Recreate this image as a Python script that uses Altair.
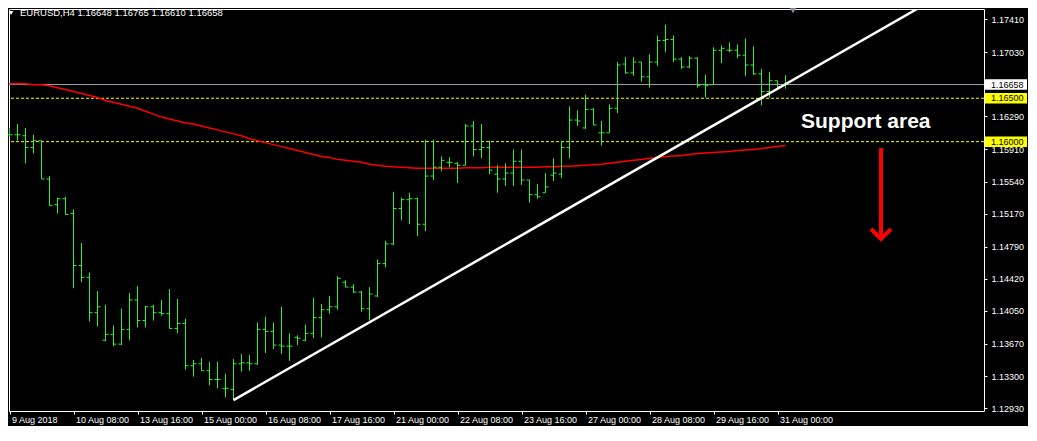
import json
import altair as alt
import pandas as pd

# ---------------- data ----------------
symbol = "EURUSD"
timeframe = "H4"

bar_open = [
    1.16079, 1.16079, 1.16068, 1.15932, 1.16011, 1.15570, 1.15275, 1.15343, 1.15174, 1.14574,
    1.14438, 1.14030, 1.13713, 1.13781, 1.13668, 1.13838, 1.14177, 1.13940, 1.14098, 1.14030,
    1.14019, 1.13849, 1.13906, 1.13419, 1.13442, 1.13362, 1.13261, 1.13159, 1.13147, 1.13442,
    1.13453, 1.13442, 1.13838, 1.13815, 1.13657, 1.13645, 1.13747, 1.13713, 1.13793, 1.13974,
    1.14064, 1.14098, 1.14381, 1.14325, 1.14268, 1.14076, 1.14223, 1.14596, 1.14823, 1.15230,
    1.15332, 1.15343, 1.15049, 1.15604, 1.15706, 1.15762, 1.15751, 1.15728, 1.16181, 1.15909,
    1.15932, 1.15626, 1.15570, 1.15638, 1.15774, 1.15558, 1.15389, 1.15411, 1.15615, 1.15626,
    1.15932, 1.16249, 1.16158, 1.16373, 1.16102, 1.16102, 1.16385, 1.16894, 1.16792, 1.16917,
    1.16747, 1.16917, 1.17166, 1.17177, 1.16951, 1.16860, 1.16962, 1.16656, 1.16656, 1.17053,
    1.17053, 1.17053, 1.16996, 1.16883, 1.16781, 1.16577, 1.16702, 1.16648,
]
bar_high = [
    1.16158, 1.16204, 1.16158, 1.16079, 1.16011, 1.15604, 1.15355, 1.15366, 1.15219, 1.14834,
    1.14494, 1.14279, 1.14121, 1.13883, 1.14076, 1.14257, 1.14336, 1.14110, 1.14121, 1.14177,
    1.14302, 1.14189, 1.13962, 1.13487, 1.13510, 1.13464, 1.13464, 1.13328, 1.13498, 1.13555,
    1.13544, 1.13917, 1.13985, 1.13917, 1.14098, 1.13793, 1.13770, 1.13894, 1.14200, 1.14132,
    1.14223, 1.14449, 1.14404, 1.14359, 1.14279, 1.14325, 1.14642, 1.14857, 1.15423, 1.15355,
    1.15411, 1.15355, 1.16023, 1.16023, 1.15830, 1.15819, 1.15762, 1.16204, 1.16238, 1.16204,
    1.16011, 1.15728, 1.15751, 1.15909, 1.15909, 1.15558, 1.15513, 1.15638, 1.15808, 1.16011,
    1.16407, 1.16362, 1.16543, 1.16385, 1.16238, 1.16430, 1.16917, 1.16973, 1.16973, 1.16917,
    1.17007, 1.17223, 1.17347, 1.17223, 1.16973, 1.16985, 1.16973, 1.16770, 1.17087, 1.17109,
    1.17143, 1.17121, 1.17189, 1.17098, 1.16838, 1.16804, 1.16702, 1.16765,
]
bar_low = [
    1.16057, 1.16011, 1.15751, 1.15864, 1.15570, 1.15264, 1.15174, 1.15162, 1.14313, 1.14381,
    1.13928, 1.13872, 1.13702, 1.13645, 1.13657, 1.13713, 1.13860, 1.13860, 1.13940, 1.13996,
    1.13849, 1.13793, 1.13374, 1.13294, 1.13362, 1.13193, 1.13159, 1.13057, 1.13023, 1.13351,
    1.13362, 1.13430, 1.13566, 1.13611, 1.13555, 1.13476, 1.13657, 1.13702, 1.13736, 1.13747,
    1.14019, 1.14064, 1.14325, 1.14257, 1.14042, 1.13940, 1.14211, 1.14551, 1.14811, 1.15094,
    1.15049, 1.14913, 1.14970, 1.15558, 1.15660, 1.15706, 1.15525, 1.15728, 1.15830, 1.15808,
    1.15626, 1.15411, 1.15491, 1.15491, 1.15502, 1.15298, 1.15343, 1.15411, 1.15547, 1.15581,
    1.15808, 1.16181, 1.16147, 1.16192, 1.15955, 1.16102, 1.16328, 1.16781, 1.16758, 1.16690,
    1.16622, 1.16872, 1.17030, 1.16917, 1.16838, 1.16849, 1.16622, 1.16509, 1.16656, 1.16906,
    1.17030, 1.16962, 1.16758, 1.16770, 1.16419, 1.16509, 1.16622, 1.16610,
]
bar_close = [
    1.16079, 1.16079, 1.15932, 1.16011, 1.15570, 1.15264, 1.15343, 1.15162, 1.14574, 1.14438,
    1.14030, 1.14098, 1.13781, 1.13668, 1.13838, 1.14177, 1.13940, 1.14098, 1.14030, 1.14019,
    1.13849, 1.13906, 1.13419, 1.13442, 1.13362, 1.13261, 1.13261, 1.13159, 1.13442, 1.13453,
    1.13442, 1.13838, 1.13815, 1.13657, 1.13645, 1.13645, 1.13736, 1.13793, 1.13974, 1.14064,
    1.14098, 1.14426, 1.14325, 1.14268, 1.14076, 1.14245, 1.14596, 1.14823, 1.15230, 1.15332,
    1.15343, 1.15049, 1.15604, 1.15706, 1.15785, 1.15762, 1.15728, 1.16181, 1.15909, 1.15932,
    1.15672, 1.15570, 1.15638, 1.15774, 1.15558, 1.15389, 1.15366, 1.15479, 1.15638, 1.15932,
    1.16249, 1.16238, 1.16373, 1.16192, 1.16102, 1.16385, 1.16883, 1.16792, 1.16917, 1.16747,
    1.16917, 1.17166, 1.17177, 1.16951, 1.16860, 1.16962, 1.16645, 1.16645, 1.17053, 1.17075,
    1.17053, 1.16996, 1.16883, 1.16781, 1.16577, 1.16702, 1.16634, 1.16658,
]
ma_values = [
    1.16668, 1.16668, 1.16668, 1.16656, 1.16656, 1.16645, 1.16622, 1.16600, 1.16577, 1.16555,
    1.16532, 1.16509, 1.16475, 1.16453, 1.16430, 1.16407, 1.16385, 1.16351, 1.16317, 1.16283,
    1.16260, 1.16238, 1.16215, 1.16204, 1.16181, 1.16158, 1.16136, 1.16113, 1.16090, 1.16068,
    1.16034, 1.16011, 1.15989, 1.15966, 1.15943, 1.15921, 1.15898, 1.15875, 1.15853, 1.15830,
    1.15819, 1.15796, 1.15785, 1.15774, 1.15762, 1.15740, 1.15728, 1.15717, 1.15711, 1.15706,
    1.15700, 1.15694, 1.15694, 1.15694, 1.15694, 1.15694, 1.15694, 1.15700, 1.15700, 1.15700,
    1.15706, 1.15706, 1.15706, 1.15706, 1.15706, 1.15706, 1.15706, 1.15711, 1.15711, 1.15717,
    1.15717, 1.15723, 1.15728, 1.15734, 1.15740, 1.15751, 1.15762, 1.15774, 1.15785, 1.15796,
    1.15808, 1.15819, 1.15830, 1.15836, 1.15841, 1.15853, 1.15864, 1.15870, 1.15875, 1.15881,
    1.15887, 1.15898, 1.15904, 1.15909, 1.15921, 1.15932, 1.15943, 1.15955,
]

time_labels = ["9 Aug 2018", "10 Aug 08:00", "13 Aug 16:00", "15 Aug 00:00", "16 Aug 08:00",
               "17 Aug 16:00", "21 Aug 00:00", "22 Aug 08:00", "23 Aug 16:00", "27 Aug 00:00",
               "28 Aug 08:00", "29 Aug 16:00", "31 Aug 00:00"]
label_bars = [0, 8, 16, 24, 32, 40, 48, 56, 64, 72, 80, 88, 96]
price_ticks = [1.17410, 1.17030, 1.16290, 1.15910, 1.15540, 1.15170, 1.14790,
               1.14420, 1.14050, 1.13670, 1.13300, 1.12930]

bid_price = 1.16658
support_levels = [1.16500, 1.16000]

trend_bars = [28, 130]
trend_prices = [1.13023, 1.18402]

annotation_text = "Support area"

# ---------------- styling ----------------
FONT = "Liberation Sans"
GREEN = "#2ef02e"
RED = "#ff0000"
YELLOW = "#ffff00"
WHITE = "#ffffff"
GREY = "#98a2ac"

n = len(bar_close)
df = pd.DataFrame({
    "bar": list(range(n)),
    "open": bar_open,
    "high": bar_high,
    "low": bar_low,
    "close": bar_close,
    "ma": ma_values,
})

PLOT_W, PLOT_H = 975, 402
xscale = alt.Scale(domain=[-0.0625, -0.0625 + PLOT_W / 8.0], nice=False, zero=False)
yscale = alt.Scale(domain=[1.12898, 1.17528], nice=False, zero=False)

label_expr = json.dumps(time_labels) + "[indexof(" + json.dumps(label_bars) + ", datum.value)]"

xaxis = alt.Axis(values=label_bars, labelExpr=label_expr, title=None, grid=False,
                 domain=False, ticks=True, tickColor=WHITE, tickSize=3, tickWidth=1,
                 labelColor=WHITE, labelFont=FONT, labelFontSize=9, labelAlign="left",
                 labelBaseline="top", labelPadding=1, labelOffset=2, labelFlush=False,
                 labelOverlap=False, orient="bottom")
yaxis = alt.Axis(values=price_ticks, format=".5f", orient="right", title=None, grid=False,
                 domain=False, ticks=True, tickColor=WHITE, tickSize=3, tickWidth=1,
                 labelColor=WHITE, labelFont=FONT, labelFontSize=9, labelPadding=4,
                 labelOverlap=False, labelFlush=False)

X = lambda f: alt.X(f, scale=xscale, axis=xaxis)
Y = lambda f: alt.Y(f, scale=yscale, axis=yaxis)

base = alt.Chart(df)

# horizontal price levels
bid_line = alt.Chart(pd.DataFrame({"price": [bid_price]})).mark_rule(
    color=GREY, strokeWidth=1).encode(y=Y("price:Q"))
support_lines = alt.Chart(pd.DataFrame({"price": support_levels})).mark_rule(
    color=YELLOW, strokeWidth=1, strokeDash=[3, 2]).encode(y=Y("price:Q"))

# moving average
ma_line = base.mark_line(color=RED, strokeWidth=1.5).encode(x=X("bar:Q"), y=Y("ma:Q"))

# OHLC bars
wick = base.mark_rule(color=GREEN, strokeWidth=1).encode(
    x=X("bar:Q"), y=Y("low:Q"), y2="high:Q")
open_tick = base.mark_rule(color=GREEN, strokeWidth=1, xOffset=-3).encode(
    x=X("bar:Q"), x2="bar:Q", y=Y("open:Q"))
close_tick = base.mark_rule(color=GREEN, strokeWidth=1, x2Offset=3).encode(
    x=X("bar:Q"), x2="bar:Q", y=Y("close:Q"))

# trend line
trend = alt.Chart(pd.DataFrame({"bar": trend_bars, "price": trend_prices})).mark_line(
    color=WHITE, strokeWidth=2.5, clip=True).encode(x=X("bar:Q"), y=Y("price:Q"))

# price boxes on the right axis
levels_df = pd.DataFrame({
    "price": [bid_price] + support_levels,
    "fill": [WHITE] + [YELLOW] * len(support_levels),
})
boxes = alt.Chart(levels_df).mark_point(
    shape="M-1,-0.25H1V0.25H-1Z", size=1764, filled=True, opacity=1, strokeWidth=0
).encode(x=alt.value(PLOT_W + 22), y=Y("price:Q"), color=alt.Color("fill:N", scale=None))
box_text = alt.Chart(levels_df).mark_text(
    align="left", baseline="middle", font=FONT, fontSize=9, color="#000000"
).encode(x=alt.value(PLOT_W + 7), y=Y("price:Q"), text=alt.Text("price:Q", format=".5f"))

# header
last = n - 1
header = "{},{}  {:.5f} {:.5f} {:.5f} {:.5f}".format(
    symbol, timeframe, bar_open[last], bar_high[last], bar_low[last], bar_close[last])
one = pd.DataFrame({"t": [header]})
header_text = alt.Chart(one).mark_text(
    align="left", baseline="alphabetic", font=FONT, fontSize=9.5, color=WHITE
).encode(x=alt.value(11), y=alt.value(7), text="t:N")
header_tri = alt.Chart(one).mark_point(
    shape="triangle-down", filled=True, color=WHITE, size=22, opacity=1
).encode(x=alt.value(2), y=alt.value(4))
shift_marker = alt.Chart(one).mark_point(
    shape="triangle-down", filled=True, color="#7f8c99", size=60, opacity=1
).encode(x=alt.value(784), y=alt.value(1))

# annotation
note = alt.Chart(pd.DataFrame({"t": [annotation_text]})).mark_text(
    align="left", baseline="alphabetic", font=FONT, fontSize=21, fontWeight="bold", color=WHITE
).encode(x=alt.value(792), y=alt.value(119), text="t:N")
arrow_shaft = alt.Chart(one).mark_rule(color=RED, strokeWidth=4).encode(
    x=alt.value(872), y=alt.value(139), y2=alt.value(229))
arrow_head = alt.Chart(one).mark_point(
    shape="M-1,-1L0,0L1,-1", size=400, filled=False, color=RED, strokeWidth=4, opacity=1
).encode(x=alt.value(872), y=alt.value(230))

chart = alt.layer(
    bid_line, support_lines, ma_line, wick, open_tick, close_tick, trend,
    boxes, box_text, header_tri, header_text, shift_marker, note, arrow_shaft, arrow_head,
).properties(
    width=PLOT_W, height=PLOT_H, background="#000000",
    padding={"left": 1, "top": 1, "right": 44, "bottom": 15},
    autosize=alt.AutoSizeParams(type="none"),
).configure_view(stroke=WHITE, strokeWidth=1, fill="#000000")

chart.save("out.html", embed_options={"renderer": "svg", "actions": False})
